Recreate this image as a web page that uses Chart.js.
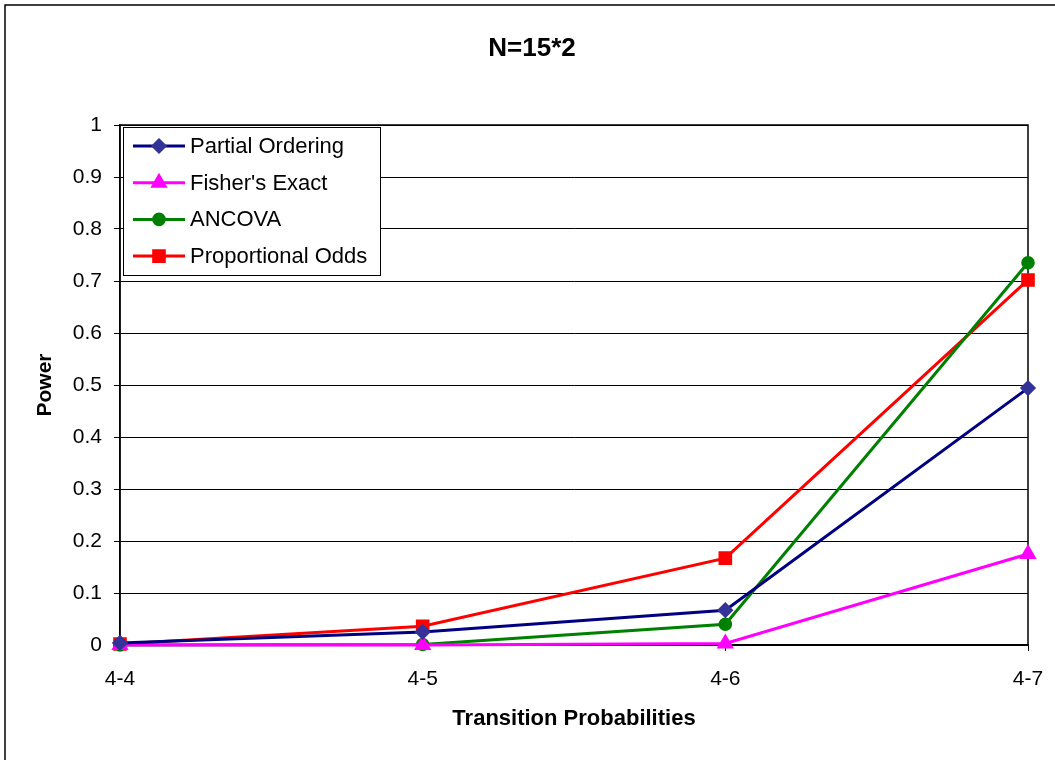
<!DOCTYPE html>
<html><head><meta charset="utf-8">
<script src="https://cdn.jsdelivr.net/npm/chart.js@4/dist/chart.umd.min.js"></script>
<style>html,body{margin:0;padding:0;background:#fff;}#wrap{width:1055px;height:760px;position:relative;}</style>
</head><body><div id="wrap"><canvas id="c" width="1055" height="760"></canvas></div>
<script>
const categories = ['4-4', '4-5', '4-6', '4-7'];
const partialOrdering = [0.004, 0.025, 0.067, 0.494];
const fishersExact = [0.0, 0.0, 0.003, 0.175];
const ancova = [0.0, 0.001, 0.040, 0.735];
const proportionalOdds = [0.002, 0.036, 0.167, 0.702];
const yTicks = [0, 0.1, 0.2, 0.3, 0.4, 0.5, 0.6, 0.7, 0.8, 0.9, 1];
const chartTitle = 'N=15*2';

const FONT = 'Arial, "Liberation Sans", sans-serif';

const plotFrame = {
  id: 'plotFrame',
  beforeDraw(chart) {
    const ctx = chart.ctx;
    ctx.save();
    ctx.fillStyle = '#fff'; ctx.fillRect(0, 0, chart.width, chart.height);
    ctx.strokeStyle = '#000'; ctx.lineWidth = 1.5;
    ctx.beginPath(); ctx.moveTo(5, 760); ctx.lineTo(5, 5); ctx.lineTo(1055, 5); ctx.stroke();
    ctx.fillStyle = '#000';
    ctx.font = 'bold 26px ' + FONT;
    ctx.textAlign = 'center'; ctx.textBaseline = 'alphabetic';
    ctx.fillText(chartTitle, 532, 56);
    ctx.restore();
  },
  beforeDatasetsDraw(chart) {
    const a = chart.chartArea, ctx = chart.ctx;
    ctx.save();
    ctx.strokeStyle = '#000'; ctx.lineWidth = 1.5;
    ctx.strokeRect(a.left, a.top, a.right - a.left, a.bottom - a.top);
    ctx.restore();
  }
};

const boxLegend = {
  id: 'boxLegend',
  afterDraw(chart) {
    const ctx = chart.ctx, a = chart.chartArea;
    const x0 = a.left + 3, y0 = a.top + 2, w = 257, h = 148;
    ctx.save();
    ctx.fillStyle = '#fff';
    ctx.fillRect(x0, y0, w, h);
    ctx.strokeStyle = '#000'; ctx.lineWidth = 1;
    ctx.strokeRect(x0 + 0.5, y0 + 0.5, w, h);
    chart.data.datasets.forEach((ds, i) => {
      const y = y0 + 19 + i * 36.7;
      ctx.strokeStyle = ds.borderColor; ctx.lineWidth = 3;
      ctx.beginPath(); ctx.moveTo(x0 + 10, y); ctx.lineTo(x0 + 62, y); ctx.stroke();
      ctx.fillStyle = ds.pointBackgroundColor;
      ctx.strokeStyle = ds.pointBorderColor;
      Chart.helpers.drawPoint(ctx, {pointStyle: ds.pointStyle, radius: ds.pointRadius, borderWidth: 1}, x0 + 36, y);
      ctx.fillStyle = '#000';
      ctx.font = '22px ' + FONT;
      ctx.textBaseline = 'middle'; ctx.textAlign = 'left';
      ctx.fillText(ds.label, x0 + 67, y + 1);
    });
    ctx.restore();
  }
};

function ds(label, data, line, pt, style, r) {
  return {label, data, borderColor: line, backgroundColor: pt, pointBackgroundColor: pt, pointBorderColor: pt,
    pointStyle: style, pointRadius: r, pointHoverRadius: r, borderWidth: 3, tension: 0, clip: false};
}

new Chart(document.getElementById('c'), {
  type: 'line',
  data: {
    labels: categories,
    datasets: [
      ds('Partial Ordering', partialOrdering, '#000080', '#333399', 'rectRot', 6),
      ds("Fisher's Exact", fishersExact, '#FF00FF', '#FF00FF', 'triangle', 7),
      ds('ANCOVA', ancova, '#008000', '#008000', 'circle', 5.3),
      ds('Proportional Odds', proportionalOdds, '#FF0000', '#FF0000', 'rect', 7.5)
    ]
  },
  options: {
    responsive: false,
    animation: false,
    devicePixelRatio: 1,
    layout: {padding: {left: 5, right: 27, top: 125, bottom: 25}},
    plugins: {
      legend: {display: false},
      tooltip: {enabled: false},
      title: {display: false}
    },
    scales: {
      x: {
        type: 'category', offset: false,
        grid: {display: true, drawOnChartArea: false, drawTicks: true, tickLength: 6, color: '#000'},
        border: {display: true, color: '#000', width: 1.5},
        ticks: {color: '#000', font: {family: FONT, size: 21}, padding: 16, maxRotation: 0},
        title: {display: true, text: 'Transition Probabilities', color: '#000',
          font: {family: FONT, size: 22, weight: 'bold'}, padding: {top: 0, bottom: 3}},
        afterFit(s) { s.height = 90; s.paddingLeft = 0; s.paddingRight = 0; }
      },
      y: {
        min: 0, max: 1,
        afterBuildTicks(s) { s.ticks = yTicks.map(v => ({value: v})); },
        grid: {display: true, drawOnChartArea: true, drawTicks: true, tickLength: 6, color: '#000', lineWidth: 1},
        border: {display: true, color: '#000', width: 1.5},
        ticks: {color: '#000', font: {family: FONT, size: 21}, padding: 12,
          callback: v => String(Math.round(v * 10) / 10)},
        title: {display: true, text: 'Power', color: '#000',
          font: {family: FONT, size: 21, weight: 'bold'}, padding: {top: 28, bottom: 0}},
        afterFit(s) { s.width = 115; }
      }
    }
  },
  plugins: [plotFrame, boxLegend]
});
</script></body></html>
